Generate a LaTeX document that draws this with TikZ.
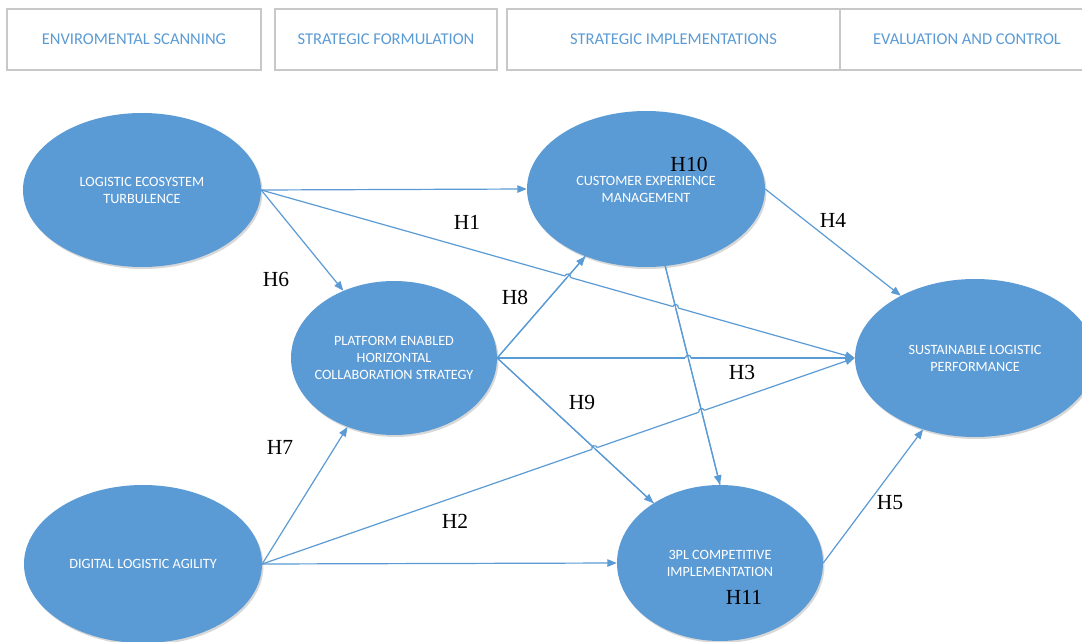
\documentclass[tikz,border=0pt]{standalone}
\usepackage{fontspec}
\setmainfont{Carlito}
\newfontfamily\hfont{Liberation Serif}
\usetikzlibrary{arrows.meta,shapes.geometric,shadows,intersections,calc}
\definecolor{ellblue}{HTML}{5B9BD5}
\definecolor{boxgray}{HTML}{C8C8C8}
\newcommand\hopcover[3]{\draw[draw=white, line width=2.2pt] let \p1=($(#3)-(#2)$), \n1={atan2(\y1,\x1)} in ($(#1)+({\n1+180}:2.8pt)$) -- ($(#1)+({\n1}:2.8pt)$);}
\newcommand\hoparc[3]{\draw[conn] let \p1=($(#3)-(#2)$), \n1={atan2(\y1,\x1)} in ($(#1)+({\n1+180}:2.8pt)$) arc[start angle={\n1+180}, end angle={\n1}, radius=2.8pt];}
\begin{document}
\begin{tikzpicture}[x=1pt,y=-1pt,
 hdr/.style={draw=boxgray, line width=1.3pt, minimum height=61pt, inner sep=0pt, text=ellblue, font=\fontsize{16.5}{20}\selectfont},
 ell/.style={ellipse, fill=ellblue, inner sep=0pt, text=white, align=center, font=\fontsize{14.2}{17}\selectfont, drop shadow={opacity=0.3, shadow xshift=1.5pt, shadow yshift=-2pt}},
 conn/.style={draw=ellblue, line width=1.2pt},
 arr/.style={conn, -{Triangle[length=9.5pt,width=7.5pt]}},
 hlab/.style={font=\hfont\fontsize{21.5}{24}\selectfont, inner sep=0pt}
]
\useasboundingbox (0,0) rectangle (1082,642);
\clip (0,0) rectangle (1082,642);
\fill[white] (0,0) rectangle (1082,642);

% header boxes
\node[hdr, minimum width=254pt] (b1) at (134,39.5) {ENVIROMENTAL SCANNING};
\node[hdr, minimum width=222pt] (b2) at (386,39.5) {STRATEGIC FORMULATION};
\node[hdr, minimum width=333pt] (b3) at (673.5,39.5) {STRATEGIC IMPLEMENTATIONS};
\node[hdr, minimum width=254pt] (b4) at (967,39.5) {EVALUATION AND CONTROL};

% ellipses
\node[ell, minimum width=238pt, minimum height=154pt] (let) at (142,190) {LOGISTIC ECOSYSTEM\\TURBULENCE};
\node[ell, minimum width=238pt, minimum height=156pt] (cem) at (646,189) {CUSTOMER EXPERIENCE\\MANAGEMENT};
\node[ell, minimum width=206pt, minimum height=154pt, inner xsep=-20pt] (pes) at (394,358) {PLATFORM ENABLED\\HORIZONTAL\\COLLABORATION STRATEGY};
\node[ell, minimum width=240pt, minimum height=158pt] (slp) at (975,358) {SUSTAINABLE LOGISTIC\\PERFORMANCE};
\node[ell, minimum width=238pt, minimum height=158pt] (dla) at (143,564) {DIGITAL LOGISTIC AGILITY};
\node[ell, minimum width=206pt, minimum height=156pt] (tpl) at (720,563) {3PL COMPETITIVE\\IMPLEMENTATION};

% connectors
\draw[arr] (let.east) -- (cem.west);
\draw[arr, name path=h1] (let.east) -- (slp.west);
\draw[arr] (let.east) -- (pes.127.6);
\draw[arr, name path=h8] (pes.east) -- (cem.228.5);
\draw[arr, name path=h3] (pes.east) -- (slp.west);
\draw[arr, name path=h9] (pes.east) -- (tpl.138.2);
\draw[arr, name path=h10] (cem.284.4) -- (tpl.north);
\draw[arr] (cem.east) -- (slp.140.7);
\draw[arr] (dla.east) -- (pes.236.9);
\draw[arr, name path=h2] (dla.east) -- (slp.west);
\draw[arr] (dla.east) -- (tpl.west);
\draw[arr] (tpl.east) -- (slp.234.4);

% line hops
\path[name intersections={of=h1 and h8, by=c1}];
\path[name intersections={of=h1 and h10, by=c2}];
\path[name intersections={of=h3 and h10, by=c3}];
\path[name intersections={of=h2 and h10, by=c4}];
\path[name intersections={of=h2 and h9, by=c5}];
\hopcover{c1}{let.east}{slp.west}
\hopcover{c2}{let.east}{slp.west}
\hopcover{c3}{pes.east}{slp.west}
\hopcover{c4}{dla.east}{slp.west}
\hopcover{c5}{dla.east}{slp.west}
\draw[conn] (pes.east) -- (cem.228.5);
\draw[conn] (pes.east) -- (tpl.138.2);
\draw[conn] (cem.284.4) -- (tpl.north);
\hoparc{c1}{let.east}{slp.west}
\hoparc{c2}{let.east}{slp.west}
\hoparc{c3}{pes.east}{slp.west}
\hoparc{c4}{dla.east}{slp.west}
\hoparc{c5}{dla.east}{slp.west}

% labels
\node[hlab] (l10) at (689,164) {H10};
\node[hlab] (l1) at (467,222) {H1};
\node[hlab] (l4) at (833,220) {H4};
\node[hlab] (l6) at (276,279) {H6};
\node[hlab] (l8) at (515,297) {H8};
\node[hlab] (l3) at (742,372) {H3};
\node[hlab] (l9) at (582,402) {H9};
\node[hlab] (l7) at (280,447) {H7};
\node[hlab] (l2) at (455,521) {H2};
\node[hlab] (l5) at (890,503) {H5};
\node[hlab] (l11) at (744,597) {H11};
\end{tikzpicture}
\end{document}
